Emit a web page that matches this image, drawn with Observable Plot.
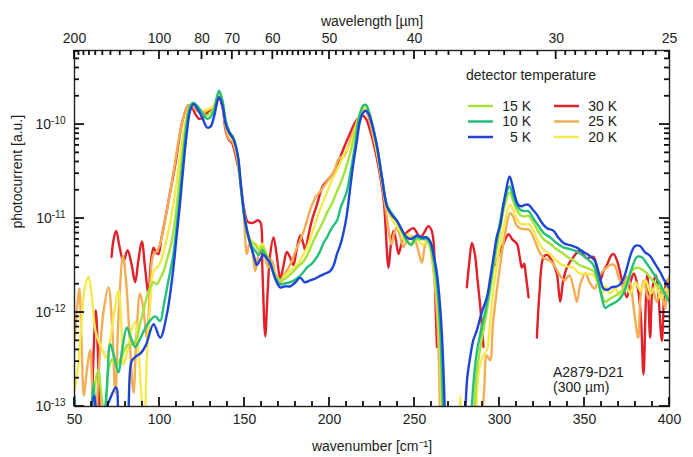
<!DOCTYPE html>
<html><head><meta charset="utf-8">
<script src="https://cdn.jsdelivr.net/npm/d3@7"></script>
<script src="https://cdn.jsdelivr.net/npm/@observablehq/plot@0.6"></script>
<style>body{margin:0;background:#fff}</style>
</head><body><div id="chart"></div><script>
// series names (draw order) and colours
const series = ["30 K", "25 K", "20 K", "15 K", "10 K", "5 K"];
const colors = ["#e2202a", "#f2ad55", "#f6e94e", "#a4e33a", "#25c07a", "#1f45d6"];

// [wavenumber cm^-1, photocurrent a.u.]; null = break in the trace
const t30K = [[60,6e-14],[61.5,5e-13],[62.5,1.05e-12],[63.5,5e-13],[65,6e-14],null,
 [71.8,3.9e-12],[73,6e-12],[74.5,7.4e-12],[76.5,5e-12],[78.8,3.5e-12],[81.2,4.6e-12],[83.5,3.3e-12],[85.7,2.1e-12],[87.5,3.5e-12],[89.6,5.7e-12],[91.5,3e-12],[93.5,1.6e-12],[95,3.5e-12],[96.5,4.9e-12],[98,4.3e-12],[99.4,4.2e-12],[101,6e-12],[103.4,1e-11],[106,1.8e-11],[109,3.5e-11],[111,6e-11],[113,1e-10],[115,1.35e-10],[117,1.6e-10],[119,1.55e-10],[121,1.3e-10],[123.5,1.15e-10],[126,1.2e-10],[129,1.4e-10],[131,1.45e-10],[133,1.6e-10],[135,1.95e-10],[137,1.55e-10],[139,8.5e-11],[141,6.8e-11],[142.6,6.4e-11],[145,4.5e-11],[147,3e-11],[148.5,1.8e-11],[150,1.2e-11],[152,9.2e-12],[155,9e-12],[158,9.6e-12],[159.5,9e-12],[160.5,3e-12],[162.2,5.6e-13],[163.5,1.5e-12],[165,4e-12],[167.1,6.3e-12],[169,4e-12],[171,2.3e-12],[173,3.2e-12],[174.9,4.4e-12],[177,3.8e-12],[178.8,3.2e-12],[180.5,4.5e-12],[182.8,6.6e-12],[184.5,5.5e-12],[185.7,4.6e-12],[187.5,6.5e-12],[189.6,9.5e-12],[192.6,1.4e-11],[196,2.2e-11],[200.4,2.75e-11],[203,3.2e-11],[206.3,4.5e-11],[209,6e-11],[212,8e-11],[215,1.05e-10],[217.5,1.2e-10],[219.5,1.25e-10],[221.5,1.15e-10],[224,8.5e-11],[227,5.2e-11],[230,2.7e-11],[232,1.5e-11],[234.7,3e-12],[236,5e-12],[237.6,7.4e-12],[239,6e-12],[240.6,4.2e-12],[242.5,5.5e-12],[245,7e-12],[247,7.5e-12],[249.4,7.9e-12],[251.5,7e-12],[253.4,6.3e-12],[255.5,7e-12],[258.2,8.3e-12],[260,7.5e-12],[261.2,5.7e-12],[262.2,1.5e-12],[263.2,4.3e-13],null,
 [280.8,1.86e-12],[282.3,3.5e-12],[283.8,5.5e-12],[285.5,4.2e-12],[287,2.3e-12],[288.8,1.1e-12],[290.6,4.3e-13],null,
 [298,3.2e-12],[300.4,4.6e-12],[302.5,5.5e-12],[305.3,6.8e-12],[307.5,6e-12],[310.2,5.4e-12],[312,3.8e-12],[313.2,3e-12],[314.5,3.3e-12],[315.5,2.5e-12],[317.1,1.45e-12],null,
 [322,5.4e-13],[323.5,1.6e-12],[325.9,3.9e-12],[328,4.1e-12],[331,3.5e-12],[333.7,2.6e-12],[335.7,1.3e-12],[337.5,2.2e-12],[339.6,3e-12],[343.5,3.9e-12],[347.5,4.6e-12],[351,3.8e-12],[355.3,3.9e-12],[357.5,2.8e-12],[359.2,2.2e-12],[361.3,2.8e-12],[363.2,3.2e-12],[365.5,4e-12],[367.1,4.2e-12],[369.5,3.4e-12],[372,2.2e-12],[374.9,1.45e-12],[377,2.1e-12],[379,2.6e-12],[381,2e-12],[383,1e-12],[384.7,2.2e-13],[386,1.2e-12],[387,2.6e-12],[388.6,5.4e-13],[390,1.8e-12],[392,2.5e-12],[393.5,1.5e-12],[395.5,5e-13],[397,1.6e-12],[398.5,2.2e-12],[400,2e-12]];

const t25K = [[50,5e-13],[51.5,1.1e-12],[52.8,1.8e-12],[54,6e-13],[55.5,1.3e-13],[57,2.2e-13],[59.2,4e-13],[60.5,1.5e-13],[62,5e-14],[64,2e-13],[67,1e-12],[70,1.86e-12],[72,8e-13],[74,1.4e-13],[76,1e-12],[78.5,4e-12],[80.5,2e-12],[82.5,5e-13],[84.7,1.4e-13],[86.5,6e-13],[88.6,1.6e-12],[90.5,1.1e-12],[92.6,5.4e-13],[94.5,2e-12],[96.5,4.2e-12],[98.5,4.5e-12],[100.5,5.5e-12],[103,9e-12],[106,1.8e-11],[109,3.8e-11],[111,6.5e-11],[113,1e-10],[115,1.35e-10],[117,1.6e-10],[119,1.6e-10],[121,1.45e-10],[123.5,1.35e-10],[126,1.35e-10],[129,1.45e-10],[131,1.5e-10],[133,1.65e-10],[135,2.05e-10],[137,1.6e-10],[139,9e-11],[141,7e-11],[143,6.5e-11],[145.5,4.5e-11],[147.5,2.5e-11],[149.5,1.2e-11],[151.4,4.2e-12],[153,5.5e-12],[154.5,4.6e-12],[156.3,2.75e-12],[158,4e-12],[160,5.2e-12],[162,4e-12],[164,3e-12],[166,3.6e-12],[168.5,2.4e-12],[171,2e-12],[173,2.5e-12],[175,2.8e-12],[177.5,3.4e-12],[180,4.5e-12],[183,6e-12],[186,8.5e-12],[189,1.3e-11],[192,1.7e-11],[195,2e-11],[197.5,2.3e-11],[200.4,2.75e-11],[203,3.3e-11],[205,4.2e-11],[206.5,4.5e-11],[208.5,4.6e-11],[210.5,5.5e-11],[213,7.5e-11],[215.5,1e-10],[218,1.3e-10],[220,1.45e-10],[221.5,1.4e-10],[223,1.2e-10],[225,8.5e-11],[228,4.8e-11],[231,2.3e-11],[233.5,1.1e-11],[235,7e-12],[236.5,5.3e-12],[238,7e-12],[239.5,8e-12],[241.5,6.5e-12],[243.5,5e-12],[246,6e-12],[248.5,6.5e-12],[251,5.5e-12],[253,4e-12],[254.4,3.4e-12],[256,5e-12],[258,6e-12],[260,4e-12],[262.2,1.8e-12],[264.1,4.6e-13],[265,5e-14],null,
 [289,5e-14],[291,1.5e-13],[292.5,3.5e-13],[294.5,3.1e-13],[296,7e-13],[298,1.5e-12],[300.5,3.3e-12],[303,6.5e-12],[306.3,1.15e-11],[308,1.05e-11],[310,8.5e-12],[312.5,7.8e-12],[315,7.7e-12],[317.5,7.6e-12],[320,6.3e-12],[323,4.6e-12],[326,3.8e-12],[329.8,3.55e-12],[333,3e-12],[336,2.4e-12],[338.5,2.2e-12],[341,2.5e-12],[343.5,1.85e-12],[345.5,1.3e-12],[347.5,2e-12],[350.5,2.6e-12],[353,2.1e-12],[356,1.8e-12],[359,2.5e-12],[362,2.9e-12],[365,3.2e-12],[367.5,3.2e-12],[370,2.4e-12],[372.5,1.9e-12],[375,2.4e-12],[377,2e-12],[379,1.1e-12],[381.6,5.4e-13],[383,1.5e-12],[385,2.2e-12],[387.5,1.4e-12],[390,1.8e-12],[392.5,1.3e-12],[395,1.7e-12],[397.5,1.1e-12],[399,2.2e-12],[400,2.4e-12]];

const t20K = [[50,1.5e-13],[52,2.5e-13],[54.3,8.9e-13],[56,1.8e-12],[58.2,2.4e-12],[60,1.6e-12],[62.2,6.5e-13],[64.1,5e-13],[66.5,4e-13],[68.5,3.3e-13],[70.5,4.5e-13],[73,9e-13],[75.9,1.7e-12],[77.5,8e-13],[78.8,2.8e-13],[80.5,3.5e-13],[83,6e-13],[85.7,8e-13],[87.5,4e-13],[89.5,1.2e-13],[91,5e-14],[92.5,3e-13],[94.5,1.2e-12],[96.5,2.75e-12],[98.5,3e-12],[100.5,3.4e-12],[102.5,4.5e-12],[105,7e-12],[107.5,1.2e-11],[110,2.4e-11],[112,4.5e-11],[114,8e-11],[116,1.25e-10],[118,1.55e-10],[120,1.6e-10],[122.5,1.5e-10],[125,1.4e-10],[128,1.45e-10],[130,1.5e-10],[132,1.6e-10],[135,2.15e-10],[137,1.7e-10],[139,1e-10],[141,7.8e-11],[143.5,6.8e-11],[146,4.3e-11],[148,2.1e-11],[150,1.1e-11],[152,7e-12],[154,5.7e-12],[156.5,5.4e-12],[158.5,5e-12],[160.5,5.4e-12],[162.5,4.4e-12],[165,3.4e-12],[168,2.5e-12],[171,2.2e-12],[174,2.5e-12],[177,2.8e-12],[180.8,3.2e-12],[183.5,3.8e-12],[186.7,4.9e-12],[189.5,6.8e-12],[192.5,1e-11],[195.5,1.4e-11],[198.5,1.9e-11],[201.5,2.6e-11],[204.5,3.3e-11],[207,4.2e-11],[209.5,5.2e-11],[212.2,6.2e-11],[214.5,8e-11],[217,1.15e-10],[219.5,1.45e-10],[221.5,1.5e-10],[223,1.35e-10],[225,9.5e-11],[228,5.2e-11],[231,2.5e-11],[233.8,1.3e-11],[236.5,1e-11],[239.6,8.3e-12],[242,7.1e-12],[244,5.8e-12],[246,6.8e-12],[248.5,5.8e-12],[251,6.3e-12],[253.5,5.5e-12],[255,5.2e-12],[257.3,5.9e-12],[259.5,4.6e-12],[261.5,2.8e-12],[263.5,1.2e-12],[265,4e-13],[266,5e-14],null,
 [276,5e-14],[277,1.3e-13],[278,5e-14],null,
 [286,5e-14],[288,2.5e-13],[290.5,3.5e-13],[292.6,4e-13],[294.5,8e-13],[296.5,1.8e-12],[298.5,3.3e-12],[300.5,5.5e-12],[303,9e-12],[306,1.4e-11],[308,1.25e-11],[310,1e-11],[312.5,8.8e-12],[315,8.7e-12],[317.5,8.7e-12],[320,7.5e-12],[323,5.6e-12],[326,4.6e-12],[329.8,4.2e-12],[333,3.6e-12],[337,3.2e-12],[340,3.1e-12],[343.5,3e-12],[347,2.6e-12],[351,2.6e-12],[355.3,2.5e-12],[358,2e-12],[360.5,1.6e-12],[362.5,1.9e-12],[365,1.6e-12],[368,1.8e-12],[371,1.5e-12],[374,2e-12],[377,1.6e-12],[380,2.1e-12],[383,1.7e-12],[386,2.2e-12],[389,1.6e-12],[392,1.9e-12],[395,1.4e-12],[398,1.8e-12],[400,1.6e-12]];

const t15K = [[58,5e-14],[61,1.3e-13],[64,2.4e-13],[66,1.2e-13],[68,8e-14],[70,2.5e-13],[72.5,3.2e-13],[75,2.8e-13],[78,3.5e-13],[81,4.5e-13],[84,4.6e-13],[86.7,5.4e-13],[88.5,7.5e-13],[90.6,1.05e-12],[92.5,1.45e-12],[94.5,1.86e-12],[96.5,2.1e-12],[98.4,2e-12],[100.4,2.3e-12],[102.4,2.75e-12],[105,4e-12],[107.3,5.8e-12],[109.5,1.1e-11],[111.5,2.3e-11],[113.5,5e-11],[115.5,1e-10],[117.5,1.5e-10],[119.5,1.7e-10],[121.5,1.6e-10],[124,1.4e-10],[127,1.25e-10],[129.5,1.3e-10],[132,1.5e-10],[135,2.25e-10],[137,1.8e-10],[139,1.05e-10],[141,8.2e-11],[143.5,7.1e-11],[146,4.6e-11],[148,2.1e-11],[150,1.05e-11],[152,6.8e-12],[154,5.7e-12],[156.5,5.2e-12],[158.5,4.6e-12],[160.5,5e-12],[162.5,4.3e-12],[165,3.5e-12],[168,2.6e-12],[171,2.2e-12],[174,2.3e-12],[176.5,2.5e-12],[178.8,2.75e-12],[181.5,3.1e-12],[184.7,3.5e-12],[187.5,4.3e-12],[190.6,5.8e-12],[193.5,7.4e-12],[196.5,9.5e-12],[199,1.2e-11],[201.5,1.45e-11],[204.4,1.95e-11],[207,2.5e-11],[209.5,3.4e-11],[212,4.8e-11],[214.5,7.5e-11],[217,1.15e-10],[219.5,1.55e-10],[221.5,1.6e-10],[223,1.4e-10],[225,1e-10],[228,5.5e-11],[231,2.6e-11],[233.8,1.35e-11],[236.5,1.1e-11],[239.6,9.3e-12],[242.5,7.4e-12],[245.5,5.8e-12],[248,5.2e-12],[251,6e-12],[254.5,6e-12],[257.3,5.9e-12],[259.5,4.8e-12],[261.5,3e-12],[263.5,1.4e-12],[265,5e-13],[266,1.5e-13],[266.8,5e-14],null,
 [285,5e-14],[286.5,2.2e-13],[289,4.5e-13],[292,9e-13],[294.5,1.7e-12],[296.5,3e-12],[298.5,5e-12],[300.5,8e-12],[303,1.35e-11],[305.9,1.9e-11],[307.5,1.65e-11],[309.5,1.3e-11],[312,1.1e-11],[314.5,1.05e-11],[317.1,1.07e-11],[320,9e-12],[323,7.2e-12],[326,6e-12],[329.8,5.4e-12],[333,4.8e-12],[337,4.3e-12],[340,3.9e-12],[343.5,3.6e-12],[347,3.2e-12],[351,3e-12],[355.3,2.75e-12],[357.5,2.2e-12],[360,1.6e-12],[362.2,1.3e-12],[365,1.4e-12],[369.1,1.55e-12],[372,1.7e-12],[375,2.2e-12],[378,2.8e-12],[380.8,3e-12],[383.5,2.9e-12],[386.7,2.6e-12],[390,2.2e-12],[394.5,1.8e-12],[397,1.6e-12],[400,1.45e-12]];

const t10K = [[50,1.3e-13],[51.3,5e-14],null,[59.5,5e-14],[61.2,1.8e-13],[62.8,5e-14],null,
 [67,6e-14],[69,1.5e-13],[71,4.6e-13],[73,3.6e-13],[75.9,2.3e-13],[78,4e-13],[80.8,6.9e-13],[83,5.5e-13],[85.7,4.3e-13],[88,5e-13],[91,6.5e-13],[94,8e-13],[97.5,9.1e-13],[100.4,8.1e-13],[102.5,1.2e-12],[105.3,2.2e-12],[108.2,4.2e-12],[110,8e-12],[112,1.8e-11],[114,4.5e-11],[116,1e-10],[118,1.55e-10],[120,1.7e-10],[122,1.6e-10],[125,1.35e-10],[128,1.15e-10],[130,1.2e-10],[132,1.4e-10],[135,2.3e-10],[137,1.8e-10],[139,1.1e-10],[141,8.5e-11],[143.5,7.2e-11],[146,4.6e-11],[148,2e-11],[150,1e-11],[152,6.5e-12],[154,5.2e-12],[156.5,4.5e-12],[158.5,4.1e-12],[160.5,4.6e-12],[162.5,4e-12],[165,3.3e-12],[168,2.4e-12],[171,2e-12],[174,2.05e-12],[177,2.1e-12],[180.8,2.3e-12],[184,2.6e-12],[186.7,3e-12],[189.5,3.3e-12],[192.6,3.9e-12],[194.5,4.5e-12],[196.5,5.5e-12],[198.5,6.3e-12],[200.4,7.4e-12],[202.5,8.5e-12],[204.4,9.5e-12],[206.5,1.3e-11],[208.5,1.6e-11],[210.2,1.95e-11],[212.5,3.2e-11],[215,6e-11],[217.5,1.2e-10],[220,1.6e-10],[221.5,1.62e-10],[223,1.4e-10],[225,1.05e-10],[228,5.8e-11],[231,2.7e-11],[233.8,1.4e-11],[236.5,1.15e-11],[239.6,9.5e-12],[242.5,7.6e-12],[245.5,5.8e-12],[248,5.3e-12],[251,6.3e-12],[254.5,6.1e-12],[257.3,6.1e-12],[259.5,5.2e-12],[261.5,3.5e-12],[263.5,1.8e-12],[265.1,7e-13],[266.3,2e-13],[267,5e-14],null,
 [283,5e-14],[284.5,1.6e-13],[286.5,3.6e-13],[289,6.3e-13],[292,1.1e-12],[294.5,2e-12],[296.5,3.5e-12],[298.5,6e-12],[300.5,9.5e-12],[303,1.6e-11],[305.9,2.2e-11],[307.5,1.9e-11],[309.5,1.45e-11],[312,1.25e-11],[314.5,1.2e-11],[317.1,1.2e-11],[320,1e-11],[323,8.3e-12],[326,7e-12],[329.8,6.3e-12],[333,5.6e-12],[337,5e-12],[340,4.8e-12],[343.5,4.6e-12],[347,4.3e-12],[351,3.8e-12],[355.3,3.2e-12],[357.5,2.4e-12],[360,1.5e-12],[362.2,1.12e-12],[365,1.2e-12],[369.1,1.32e-12],[372,1.5e-12],[375,2e-12],[378,3e-12],[380.8,3.9e-12],[383.5,3.9e-12],[386.7,3.3e-12],[390,2.7e-12],[394.5,2e-12],[397,1.6e-12],[400,1.3e-12]];

const t5K = [[59,6e-14],[61.5,1.3e-13],[64,6e-14],[67,8e-14],[70,1.1e-13],[74.5,1.6e-13],[77,6e-14],[80,6e-14],[83.5,3e-13],[86,3.4e-13],[89,3.7e-13],[92,4.5e-13],[96.5,7.5e-13],[100.4,5.4e-13],[104.3,9.5e-13],[108,2.8e-12],[110,6.3e-12],[112,1.4e-11],[114,3.5e-11],[116,8e-11],[118,1.4e-10],[120,1.65e-10],[122,1.5e-10],[125,1.2e-10],[128,9.3e-11],[130,9.5e-11],[132,1.2e-10],[135,1.95e-10],[137,1.6e-10],[139,1e-10],[141,8.2e-11],[143.5,7e-11],[146,4.8e-11],[148,2.2e-11],[150.4,9.5e-12],[153.4,5.4e-12],[155.5,4e-12],[157.3,3.2e-12],[159,3.6e-12],[161.2,4.1e-12],[163,3.8e-12],[165,3.4e-12],[168,2.3e-12],[171,1.85e-12],[174,1.9e-12],[177,1.9e-12],[180,2.1e-12],[182.7,2.35e-12],[185.5,2.1e-12],[188.6,2.2e-12],[191.5,2.3e-12],[194.5,2.45e-12],[197.5,2.6e-12],[200.4,2.75e-12],[202.5,3.2e-12],[204.4,4.2e-12],[206.3,5.2e-12],[208.2,7e-12],[210.2,1.1e-11],[212,2e-11],[214,3.8e-11],[216,6.5e-11],[218,1.1e-10],[220,1.35e-10],[221.5,1.4e-10],[223,1.3e-10],[225,1e-10],[228,5.8e-11],[231,2.6e-11],[233.8,1.35e-11],[236.5,1.1e-11],[239.6,9.5e-12],[242.5,7.6e-12],[245.5,6.3e-12],[248.5,6.1e-12],[251.4,6.6e-12],[254.5,6.3e-12],[257.3,6.3e-12],[259.5,5.6e-12],[261.2,4.2e-12],[263.2,2.6e-12],[265,1.2e-12],[266.1,5.9e-13],[267.2,2e-13],[268.2,5e-14],null,
 [279.5,5e-14],[281,2e-13],[282.7,3.3e-13],[284.5,5e-13],[286.7,6.5e-13],[289.5,1e-12],[292.6,1.45e-12],[294.5,2.3e-12],[296.5,3.9e-12],[298.5,6.5e-12],[300.4,8.5e-12],[302,1.3e-11],[303.4,1.8e-11],[305.9,2.8e-11],[307.5,2.3e-11],[309.2,1.7e-11],[311,1.4e-11],[313,1.35e-11],[315,1.4e-11],[317.1,1.4e-11],[319.5,1.25e-11],[322,1.1e-11],[325,9e-12],[327.9,7.9e-12],[331.8,7.4e-12],[334.5,6.3e-12],[337.6,5.5e-12],[341.5,5.2e-12],[345.5,4.9e-12],[348.5,4.5e-12],[351.4,4.2e-12],[354,3.9e-12],[356.3,3.5e-12],[358.5,2.6e-12],[361.2,1.8e-12],[363.5,1.75e-12],[366.1,1.86e-12],[369,1.9e-12],[371,2e-12],[373,2.3e-12],[375,3e-12],[377.5,4.3e-12],[379.8,5.1e-12],[382.7,5.1e-12],[385.5,4.4e-12],[388.6,4e-12],[391.5,3.3e-12],[394.5,2.7e-12],[397,2.2e-12],[399.4,1.86e-12],[400,1.8e-12]];

const traces = [t30K, t25K, t20K, t15K, t10K, t5K];

// axis ticks
const wnMajor = [50, 100, 150, 200, 250, 300, 350, 400];
const wnMinor = [60,70,80,90,110,120,130,140,160,170,180,190,210,220,230,240,260,270,280,290,310,320,330,340,360,370,380,390];
const wlLabels = [200, 100, 80, 70, 60, 50, 40, 30, 25];
const wlMinor = [190,180,170,160,150,140,130,120,110,95,90,85,78,76,74,72,68,66,64,62,
  59,58,57,56,55,54,53,52,51,49,48,47,46,45,44,43,42,41,39,38,37,36,35,34,33,32,31,
  29.5,29,28.5,28,27.5,27,26.5,26,25.5];
const yMajor = [1e-13, 1e-12, 1e-11, 1e-10];
const yMinor = [2e-13,3e-13,4e-13,5e-13,6e-13,7e-13,8e-13,9e-13,2e-12,3e-12,4e-12,5e-12,6e-12,7e-12,8e-12,9e-12,
  2e-11,3e-11,4e-11,5e-11,6e-11,7e-11,8e-11,9e-11,2e-10,3e-10,4e-10,5e-10,6e-10];

const data = [];
series.forEach((name, i) => {
  traces[i].forEach(p => {
    if (p === null) data.push({T: name, w: NaN, v: NaN});
    else data.push({T: name, w: p[0], v: p[1]});
  });
});

const W = 693, H = 457, ML = 74, MR = 24, MT = 50, MB = 51;
const font = "'Liberation Sans', Arial, Helvetica, sans-serif";
const svg = Plot.plot({
  width: W, height: H,
  marginLeft: ML, marginRight: MR, marginTop: MT, marginBottom: MB,
  style: {fontFamily: font, fontSize: "14px", color: "#222", background: "#fff"},
  x: {type: "linear", domain: [50, 400]},
  y: {type: "log", domain: [1e-13, 6.14e-10]},
  color: {domain: series, range: colors},
  marks: [
    Plot.line(data, {x: "w", y: "v", z: "T", stroke: "T", strokeWidth: 2.4, curve: "catmull-rom", clip: true}),
    Plot.frame({stroke: "#222", strokeWidth: 1.4}),
    Plot.axisX(wnMajor, {anchor: "bottom", tickSize: 0, tickPadding: 8, label: null, fontSize: 14}),
    Plot.axisX(wlLabels.map(l => 1e4 / l), {anchor: "top", tickSize: 0, tickPadding: 8, label: null, fontSize: 14,
      tickFormat: d => String(Math.round(1e4 / d))}),
    Plot.axisY(yMajor, {anchor: "left", tickSize: 0, tickPadding: 9, label: null, fontSize: 14,
      tickFormat: d => "10^" + Math.round(Math.log10(d))}),
    Plot.text(["wavenumber [cm⁻¹]"], {frameAnchor: "bottom", dy: 44, fontSize: 14, fill: "#222"}),
    Plot.text(["wavelength [µm]"], {frameAnchor: "top", dy: -34, fontSize: 14, fill: "#222"}),
    Plot.text(["photocurrent [a.u.]"], {frameAnchor: "left", dx: -57, rotate: -90, fontSize: 14, fill: "#222"})
  ]
});

const s = d3.select(svg);

// superscript exponents on the log axis labels
s.selectAll('g[aria-label="y-axis tick label"] text').each(function () {
  const parts = this.textContent.split("^");
  if (parts.length === 2) {
    this.textContent = parts[0];
    d3.select(this).append("tspan").attr("dy", "-0.5em").attr("font-size", "10px").text(parts[1]);
  }
});

// inward ticks on all four sides, positioned through Plot's own scales
const xs = svg.scale("x"), ys = svg.scale("y");
const xL = ML, xR = W - MR, yT = MT, yB = H - MB;
const tg = s.append("g").attr("stroke", "#111").attr("stroke-width", 1.8).attr("fill", "none");
const vtick = (px, y0, len) => tg.append("line").attr("x1", px).attr("x2", px).attr("y1", y0).attr("y2", y0 + len);
const htick = (py, x0, len) => tg.append("line").attr("y1", py).attr("y2", py).attr("x1", x0).attr("x2", x0 + len);
wnMinor.forEach(v => vtick(xs.apply(v), yB, -5));
wnMajor.forEach(v => vtick(xs.apply(v), yB, -9));
wlMinor.forEach(l => vtick(xs.apply(1e4 / l), yT, 5));
wlLabels.forEach(l => vtick(xs.apply(1e4 / l), yT, 9));
yMinor.forEach(v => { htick(ys.apply(v), xL, 5); htick(ys.apply(v), xR, -5); });
yMajor.forEach(v => { htick(ys.apply(v), xL, 10); htick(ys.apply(v), xR, -10); });

// legend
const lg = s.append("g").attr("font-family", font).attr("font-size", 14).attr("fill", "#222").attr("text-anchor", "start");
lg.append("text").attr("x", 466).attr("y", 75).attr("dy", "0.35em").text("detector temperature");
const legendRows = [["15 K", 0, 0], ["10 K", 0, 1], ["5 K", 0, 2], ["30 K", 1, 0], ["25 K", 1, 1], ["20 K", 1, 2]];
legendRows.forEach(([name, col, row]) => {
  const x0 = col === 0 ? 468 : 554;
  const y0 = 106 + row * 15.5;
  lg.append("line").attr("x1", x0).attr("x2", x0 + 25).attr("y1", y0).attr("y2", y0)
    .attr("stroke", colors[series.indexOf(name)]).attr("stroke-width", 2.5);
  lg.append("text").attr("x", x0 + 63).attr("y", y0).attr("dy", "0.35em").attr("text-anchor", "end").text(name);
});
// sample annotation
lg.append("text").attr("x", 553).attr("y", 372).attr("dy", "0.35em").text("A2879-D21");
lg.append("text").attr("x", 553).attr("y", 387).attr("dy", "0.35em").text("(300 µm)");

document.getElementById("chart").appendChild(svg);
</script></body></html>
